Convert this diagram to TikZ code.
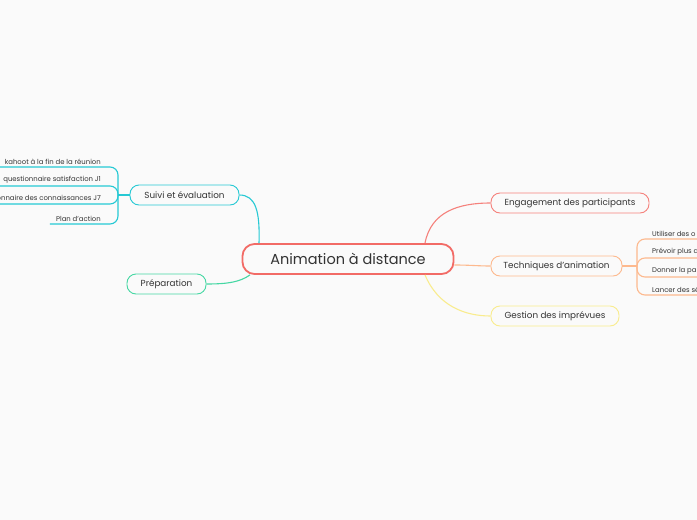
\documentclass[tikz,border=0pt]{standalone}
\usepackage{fontspec}
\setmainfont{Poppins}
\definecolor{bgcol}{HTML}{FAFAFA}
\definecolor{txtcol}{HTML}{333333}
\definecolor{rootcol}{HTML}{F26B66}
\definecolor{engcol}{HTML}{F5817C}
\definecolor{techcol}{HTML}{FDB98E}
\definecolor{gescol}{HTML}{F9EC8E}
\definecolor{suicol}{HTML}{26C9D4}
\definecolor{prepcol}{HTML}{45D7A3}

\begin{document}
\begin{tikzpicture}[
    x=1pt,y=-1pt,
    topic/.style={draw,rounded corners=9pt,line width=0.9pt,fill=bgcol,
        minimum height=20pt,text=txtcol,font=\fontsize{8.8}{10}\selectfont},
    sub/.style={inner xsep=3pt,inner ysep=2.5pt,text=txtcol,
        font=\fontsize{6.9}{8}\selectfont},
    link/.style={line width=1.1pt},
]
\useasboundingbox (0,0) rectangle (697,520);
\fill[bgcol] (0,0) rectangle (697,520);
\clip (0,0) rectangle (697,520);

% central topic
\node[draw=rootcol,line width=1.8pt,rounded corners=12pt,fill=bgcol,
    minimum width=211pt,minimum height=30pt,text=txtcol,
    font=\fontsize{14.5}{17}\selectfont] (root) at (348,259) {Animation à distance};

% main topics
\node[topic,draw=engcol,minimum width=158pt] (eng) at (570,203) {Engagement des participants};
\node[topic,draw=techcol,minimum width=131pt] (tech) at (556.5,266) {Techniques d'animation};
\node[topic,draw=gescol,minimum width=128pt] (ges) at (555,316) {Gestion des imprévues};
\node[topic,draw=suicol,minimum width=109pt] (suivi) at (184.5,195) {Suivi et évaluation};
\node[topic,draw=prepcol,minimum width=79pt] (prep) at (166.5,284) {Préparation};

% root to topics
\draw[link,engcol] ([xshift=77pt]root.north) .. controls (431,212) and (458,203) .. (eng.west);
\draw[link,techcol] ([yshift=-6pt]root.east) .. controls (470,265) and (478,266) .. (tech.west);
\draw[link,gescol] ([xshift=77pt]root.south) .. controls (438,306) and (465,316) .. (ges.west);
\draw[link,suicol] ([xshift=-89pt]root.north) .. controls (260,212) and (256,195) .. (suivi.east);
\draw[link,prepcol] ([xshift=-98pt]root.south) .. controls (240,282) and (228,284) .. (prep.east);

% suivi et evaluation subtopics
\coordinate (jl) at (118,195);
\draw[link,suicol] (suivi.west) -- (jl);
\node[sub,anchor=south east] (s1) at (104,167) {kahoot à la fin de la réunion};
\node[sub,anchor=south east] (s2) at (104,186) {questionnaire satisfaction J1};
\node[sub,anchor=south east] (s3) at (104,204) {Questionnaire des connaissances J7};
\node[sub,anchor=south east] (s4) at (104,224) {Plan d'action};
\foreach \s in {s1,s2,s3,s4}
    \draw[link,suicol,rounded corners=8pt] ([xshift=-3pt]\s.south west) -| (jl);

% techniques subtopics
\coordinate (jr) at (637,266);
\draw[link,techcol] (tech.east) -- (jr);
\node[sub,anchor=south west] (t1) at (649,239) {Utiliser des o};
\node[sub,anchor=south west] (t2) at (649,258) {Prévoir plus d};
\node[sub,anchor=south west] (t3) at (649,277) {Donner la pa};
\node[sub,anchor=south west] (t4) at (649,295) {Lancer des sé};
\foreach \t in {t1,t2,t3,t4}
    \draw[link,techcol,rounded corners=8pt] (jr) |- ([xshift=20pt]\t.south east);
\end{tikzpicture}
\end{document}
